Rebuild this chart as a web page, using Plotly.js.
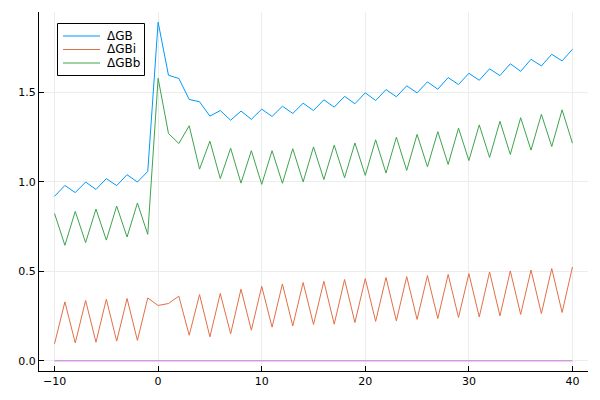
<!DOCTYPE html>
<html>
<head>
<meta charset="utf-8">
<script src="https://cdn.plot.ly/plotly-3.0.1.min.js"></script>
<style>html,body{margin:0;padding:0;background:#fff}#chart{width:600px;height:400px}</style>
</head>
<body>
<div id="chart"></div>
<script>
const xs = [-10,-9,-8,-7,-6,-5,-4,-3,-2,-1,0,1,2,3,4,5,6,7,8,9,10,11,12,13,14,15,16,17,18,19,20,21,22,23,24,25,26,27,28,29,30,31,32,33,34,35,36,37,38,39,40];
const dGB = [0.918,0.979,0.939,0.998,0.957,1.017,0.978,1.039,0.998,1.057,
  1.890,1.594,1.576,1.459,1.446,1.366,1.397,1.343,1.394,1.348,1.405,1.364,1.421,1.381,1.438,1.397,1.457,1.416,1.476,1.435,
  1.496,1.453,1.514,1.474,1.535,1.496,1.557,1.516,1.581,1.542,1.605,1.566,1.630,1.592,1.658,1.616,1.683,1.646,1.711,1.674,1.739];
const dGBi = [0.095,0.329,0.100,0.337,0.104,0.344,0.110,0.348,0.114,0.351,
  0.309,0.320,0.361,0.143,0.370,0.134,0.376,0.151,0.400,0.171,0.416,0.188,0.429,0.195,0.437,0.203,0.444,0.205,0.454,0.214,
  0.459,0.220,0.465,0.223,0.470,0.231,0.476,0.236,0.482,0.242,0.487,0.245,0.496,0.251,0.502,0.259,0.507,0.264,0.515,0.270,0.524];
const dGBb = [0.822,0.645,0.834,0.660,0.847,0.674,0.864,0.691,0.881,0.706,
  1.577,1.269,1.213,1.312,1.070,1.226,1.017,1.187,0.992,1.173,0.985,1.173,0.991,1.184,0.999,1.194,1.012,1.204,1.022,1.216,
  1.035,1.234,1.048,1.248,1.063,1.264,1.083,1.279,1.096,1.299,1.118,1.317,1.135,1.337,1.152,1.357,1.176,1.376,1.196,1.401,1.215];
const zeroLine = xs.map(() => 0);
const names = ['ΔGB','ΔGBi','ΔGBb'];
const colors = ['#009AFA','#E36F47','#3EA44E','#C371D2'];
const xTicks = [-10,0,10,20,30,40];
const yTicks = [0,0.5,1.0,1.5];

const series = [dGB, dGBi, dGBb];
const traces = series.map((s, i) => ({x: xs, y: s, name: names[i], type:'scatter', mode:'lines',
  line:{color:colors[i], width:1}, showlegend:false}));
traces.push({x: xs, y: zeroLine, showlegend:false, type:'scatter', mode:'lines', line:{color:colors[3], width:1}});

const W = 600, H = 400, M = {l:39, r:12, t:12, b:29};
const pw = W - M.l - M.r, ph = H - M.t - M.b;
const px = v => (v - M.l) / pw;          // pixel -> paper x
const py = v => (H - M.b - v) / ph;      // pixel -> paper y

// hand-built legend box (Plots.jl style, tighter than plotly's)
const shapes = [{type:'rect', xref:'paper', yref:'paper', x0:px(57.5), x1:px(144.5), y0:py(75.5), y1:py(23.5),
  line:{color:'#000', width:1}, fillcolor:'#fff', layer:'above'}];
const annotations = [];
const rowY = [36, 49.5, 63];
names.forEach((n, i) => {
  shapes.push({type:'line', xref:'paper', yref:'paper', x0:px(63), x1:px(100), y0:py(rowY[i]), y1:py(rowY[i]),
    line:{color:colors[i], width:1}, layer:'above'});
  annotations.push({xref:'paper', yref:'paper', x:px(105), y:py(rowY[i]), xanchor:'left', yanchor:'middle',
    text:n, showarrow:false, font:{family:'DejaVu Sans, sans-serif', size:12, color:'#000'}});
});

const font = {family:'DejaVu Sans, sans-serif', size:11, color:'#000'};
const layout = {
  width:W, height:H,
  margin:{l:M.l, r:M.r, t:M.t, b:M.b, pad:0},
  paper_bgcolor:'#fff', plot_bgcolor:'#fff',
  font: font,
  showlegend:false,
  shapes: shapes,
  annotations: annotations,
  xaxis:{range:[-11.5,41.5], tickvals:xTicks, ticks:'inside', ticklen:5, tickcolor:'#000', tickwidth:1,
         showline:true, linecolor:'#000', linewidth:1, mirror:false, zeroline:false,
         showgrid:true, gridcolor:'#ececec', gridwidth:1, tickfont:font},
  yaxis:{range:[-0.0567,1.947], tickvals:yTicks, tickformat:'.1f', ticks:'inside', ticklen:5, tickcolor:'#000', tickwidth:1,
         showline:true, linecolor:'#000', linewidth:1, mirror:false, zeroline:false,
         showgrid:true, gridcolor:'#ececec', gridwidth:1, tickfont:font}
};
Plotly.newPlot('chart', traces, layout, {displayModeBar:false, staticPlot:true});
</script>
</body>
</html>
